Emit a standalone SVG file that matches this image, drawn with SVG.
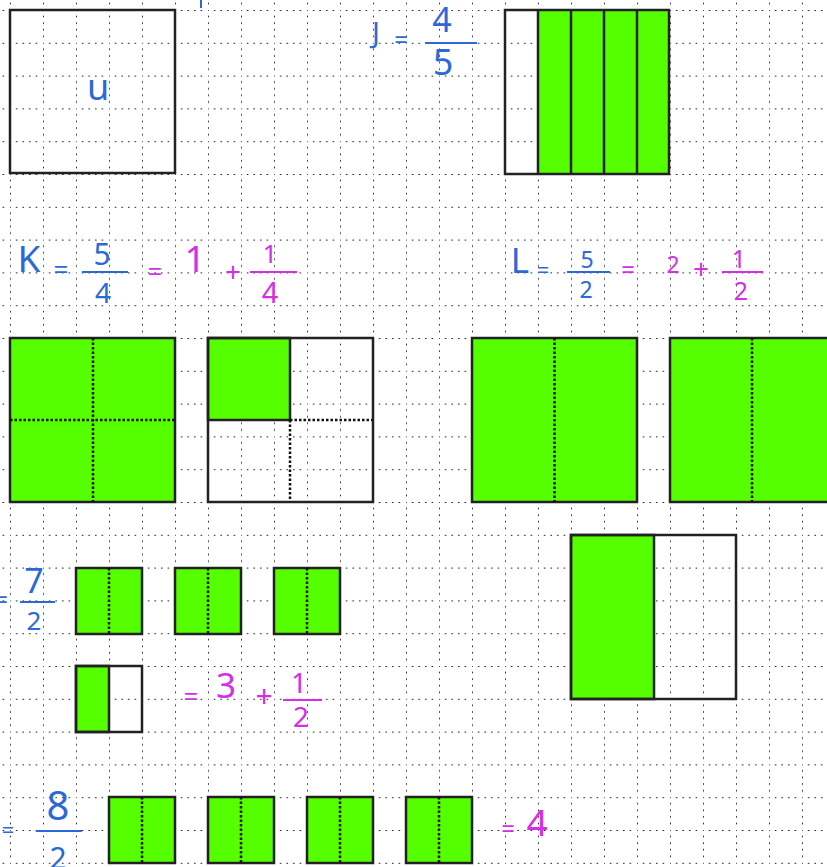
<svg xmlns="http://www.w3.org/2000/svg" width="827" height="867" viewBox="0 0 827 867">
<defs>
<pattern id="grid" patternUnits="userSpaceOnUse" x="10" y="10" width="33" height="32.8">
<g fill="#111">
<circle cx="0" cy="0" r="1"/><circle cx="6.6" cy="0" r="1"/><circle cx="13.2" cy="0" r="1"/><circle cx="19.8" cy="0" r="1"/><circle cx="26.4" cy="0" r="1"/>
<circle cx="0" cy="6.56" r="1"/><circle cx="0" cy="13.12" r="1"/><circle cx="0" cy="19.68" r="1"/><circle cx="0" cy="26.24" r="1"/>
</g>
</pattern>
<style>
.box{fill:none;stroke:#222;stroke-width:2.5}
.g{fill:#55ff00;stroke:#222;stroke-width:2.5}
.gf{fill:#55ff00;stroke:none}
.sd{stroke:#222;stroke-width:2.5}
.dash{stroke:#111;stroke-width:2.5;stroke-dasharray:2.5 2}
.b{fill:#2b6ad6;font-family:"Noto Sans","DejaVu Sans",sans-serif;text-anchor:middle}
.m{fill:#d42fe6;font-family:"Noto Sans","DejaVu Sans",sans-serif;text-anchor:middle}
.bb{stroke:#2b6ad6;stroke-width:2}
.mb{stroke:#d42fe6;stroke-width:2}
</style>
</defs>
<rect width="827" height="867" fill="#ffffff"/>
<rect width="827" height="867" fill="url(#grid)"/>
<line x1="201" y1="0" x2="201" y2="8" stroke="#2b6ad6" stroke-width="2"/>

<g id="box-u">
<rect class="box" x="10" y="10" width="165" height="163"/>
<text class="b" x="98" y="100" font-size="36">u</text>
</g>

<g id="label-J">
<text class="b" x="376" y="43" font-size="29">J</text>
<text class="b" x="401" y="48" font-size="24">=</text>
<line class="bb" x1="425" y1="43" x2="477" y2="43"/>
<text class="b" x="442" y="32" font-size="34">4</text>
<text class="b" x="443" y="75" font-size="36">5</text>
</g>

<g id="box-J">
<rect class="gf" x="538" y="10" width="131" height="164"/>
<line class="sd" x1="538" y1="10" x2="538" y2="174"/>
<line class="sd" x1="571" y1="10" x2="571" y2="174"/>
<line class="sd" x1="604" y1="10" x2="604" y2="174"/>
<line class="sd" x1="637" y1="10" x2="637" y2="174"/>
<rect class="box" x="505" y="10" width="164" height="164"/>
</g>

<g id="label-K">
<text class="b" x="29" y="272" font-size="37">K</text>
<text class="b" x="61" y="279" font-size="26">=</text>
<line class="bb" x1="82" y1="272" x2="128" y2="272"/>
<text class="b" x="102" y="265" font-size="30">5</text>
<text class="b" x="103" y="303" font-size="28">4</text>
<text class="m" x="155" y="281" font-size="26">=</text>
<text class="m" x="195" y="272" font-size="37">1</text>
<text class="m" x="233" y="282" font-size="28">+</text>
<line class="mb" x1="250" y1="272" x2="297" y2="272"/>
<text class="m" x="270" y="263" font-size="26">1</text>
<text class="m" x="270" y="303" font-size="29">4</text>
</g>

<g id="label-L">
<text class="b" x="520" y="273" font-size="35">L</text>
<text class="b" x="543" y="278" font-size="22">=</text>
<line class="bb" x1="567" y1="272" x2="610" y2="272"/>
<text class="b" x="587" y="268" font-size="23">5</text>
<text class="b" x="586" y="298" font-size="23">2</text>
<text class="m" x="628" y="278" font-size="24">=</text>
<text class="m" x="673" y="273" font-size="23">2</text>
<text class="m" x="701" y="279" font-size="28">+</text>
<line class="mb" x1="722" y1="272" x2="763" y2="272"/>
<text class="m" x="739" y="268" font-size="25">1</text>
<text class="m" x="741" y="300" font-size="25">2</text>
</g>

<g id="box-K1">
<rect class="g" x="10" y="338" width="165" height="164"/>
<line class="dash" x1="93" y1="338" x2="93" y2="502"/>
<line class="dash" x1="10" y1="420" x2="175" y2="420"/>
</g>

<g id="box-K2">
<rect class="g" x="208" y="338" width="82" height="82"/>
<line class="dash" x1="290" y1="420" x2="373" y2="420"/>
<line class="dash" x1="290" y1="420" x2="290" y2="502"/>
<rect class="box" x="208" y="338" width="165" height="164"/>
</g>

<g id="box-L1">
<rect class="g" x="472" y="338" width="165" height="164"/>
<line class="dash" x1="554.5" y1="338" x2="554.5" y2="502"/>
</g>

<g id="box-L2">
<rect class="g" x="670" y="338" width="165" height="164"/>
<line class="dash" x1="752" y1="338" x2="752" y2="502"/>
</g>

<g id="label-7-2">
<text class="b" x="1" y="608" font-size="24">=</text>
<text class="b" x="34" y="593" font-size="34">7</text>
<line class="bb" x1="20" y1="602" x2="55" y2="602"/>
<text class="b" x="34" y="630" font-size="26">2</text>
</g>

<g id="half-1">
<rect class="g" x="76" y="568" width="66" height="66"/>
<line class="dash" x1="109" y1="568" x2="109" y2="634"/>
</g>
<g id="half-2">
<rect class="g" x="175" y="568" width="66" height="66"/>
<line class="dash" x1="208" y1="568" x2="208" y2="634"/>
</g>
<g id="half-3">
<rect class="g" x="274" y="568" width="66" height="66"/>
<line class="dash" x1="307" y1="568" x2="307" y2="634"/>
</g>
<g id="half-4">
<rect class="g" x="76" y="666" width="33" height="66"/>
<rect class="box" x="76" y="666" width="66" height="66"/>
</g>

<g id="label-3-1-2">
<text class="m" x="191" y="706" font-size="26">=</text>
<text class="m" x="226" y="698" font-size="35">3</text>
<text class="m" x="264" y="707" font-size="30">+</text>
<line class="mb" x1="283" y1="700" x2="322" y2="700"/>
<text class="m" x="299" y="693" font-size="28">1</text>
<text class="m" x="301" y="727" font-size="28">2</text>
</g>

<g id="box-half-big">
<rect class="g" x="571" y="535" width="83" height="164"/>
<rect class="box" x="571" y="535" width="165" height="164"/>
</g>

<g id="label-8-2">
<text class="b" x="8" y="838" font-size="22">=</text>
<text class="b" x="58" y="820" font-size="40">8</text>
<line class="bb" x1="36" y1="831" x2="82" y2="831"/>
<text class="b" x="58" y="869" font-size="30">2</text>
</g>

<g id="whole-1">
<rect class="g" x="109" y="797" width="66" height="66"/>
<line class="dash" x1="142" y1="797" x2="142" y2="863"/>
</g>
<g id="whole-2">
<rect class="g" x="208" y="797" width="66" height="66"/>
<line class="dash" x1="241" y1="797" x2="241" y2="863"/>
</g>
<g id="whole-3">
<rect class="g" x="307" y="797" width="66" height="66"/>
<line class="dash" x1="340" y1="797" x2="340" y2="863"/>
</g>
<g id="whole-4">
<rect class="g" x="406" y="797" width="66" height="66"/>
<line class="dash" x1="439" y1="797" x2="439" y2="863"/>
</g>

<g id="label-4">
<text class="m" x="508" y="837" font-size="24">=</text>
<text class="m" x="537" y="836" font-size="37">4</text>
</g>
</svg>
